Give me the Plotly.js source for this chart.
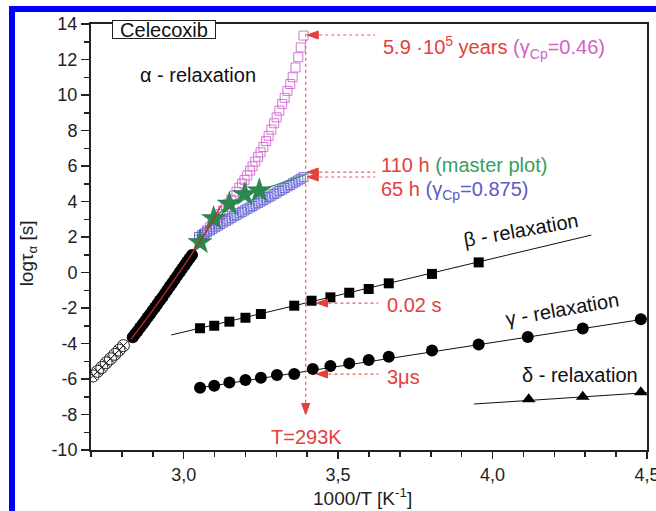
<!DOCTYPE html>
<html>
<head>
<meta charset="utf-8">
<script src="https://cdn.plot.ly/plotly-3.0.1.min.js"></script>
<style>
html,body{margin:0;padding:0;background:#fff;}
#wrap{position:relative;width:656px;height:511px;overflow:hidden;background:#fff;}
#chart{position:absolute;left:0;top:0;width:656px;height:511px;}
.bar{position:absolute;background:#0000ff;z-index:5;}
</style>
</head>
<body>
<div id="wrap">
<div id="chart"></div>
<div class="bar" style="left:9px;top:6px;width:6px;height:505px;"></div>
<div class="bar" style="left:9px;top:6px;width:647px;height:6px;"></div>
</div>
<script>
// ---- data ----
// alpha relaxation: high-temperature points (open crossed circles)
const alphaHTx = [2.707, 2.721, 2.735, 2.749, 2.763, 2.777, 2.791, 2.805];
const alphaHTy = [-5.83, -5.57, -5.35, -5.09, -4.86, -4.61, -4.37, -4.12];
// alpha relaxation: measured (filled circles)
const alphaX = [2.835, 2.843, 2.851, 2.859, 2.867, 2.875, 2.883, 2.891, 2.899, 2.907, 2.915, 2.923, 2.931,
                2.939, 2.947, 2.955, 2.963, 2.971, 2.979, 2.987, 2.995, 3.003, 3.011, 3.019, 3.027];
const alphaY = [-3.65, -3.47, -3.29, -3.10, -2.92, -2.73, -2.54, -2.35, -2.16, -1.97, -1.78, -1.58, -1.39,
                -1.19, -0.99, -0.79, -0.59, -0.39, -0.19, 0.01, 0.21, 0.41, 0.60, 0.80, 0.99];
// VFT fit (red line)
const vftX = [2.83, 2.88, 2.93, 2.98, 3.03, 3.08, 3.12];
const vftY = [-3.75, -2.60, -1.40, -0.15, 1.15, 2.50, 3.75];
// extrapolations (open squares)
const extX = [3.050, 3.059, 3.067, 3.076, 3.085, 3.093, 3.102, 3.111, 3.119, 3.128, 3.137, 3.145, 3.154, 3.163,
              3.171, 3.180, 3.189, 3.197, 3.206, 3.215, 3.223, 3.232, 3.241, 3.249, 3.258, 3.267, 3.275, 3.284,
              3.293, 3.301, 3.310, 3.319, 3.327, 3.336, 3.345, 3.353, 3.362, 3.371, 3.379, 3.388];
const gamma046Y = [1.85, 2.03, 2.19, 2.37, 2.55, 2.71, 2.90, 3.10, 3.29, 3.49, 3.70, 3.88, 4.10, 4.33,
                   4.55, 4.78, 5.01, 5.22, 5.47, 5.74, 5.98, 6.25, 6.52, 6.77, 7.07, 7.40, 7.70, 8.05,
                   8.41, 8.74, 9.12, 9.50, 9.84, 10.23, 10.62, 11.00, 11.55, 12.13, 12.68, 13.35];
const gamma0875Y = [2.00, 2.10, 2.19, 2.28, 2.37, 2.46, 2.55, 2.64, 2.73, 2.82, 2.91, 2.99, 3.08, 3.17,
                    3.25, 3.34, 3.42, 3.50, 3.59, 3.67, 3.75, 3.84, 3.92, 4.00, 4.08, 4.17, 4.25, 4.33,
                    4.42, 4.50, 4.59, 4.67, 4.76, 4.85, 4.93, 5.02, 5.11, 5.19, 5.28, 5.37];
// master plot (green stars + line)
const masterX = [3.053, 3.097, 3.148, 3.198, 3.245];
const masterY = [1.70, 3.05, 3.86, 4.40, 4.61];
const masterLineX = [3.053, 3.097, 3.148, 3.198, 3.245, 3.400];
const masterLineY = [1.70, 3.05, 3.86, 4.40, 4.61, 5.55];
// beta relaxation
const betaX = [3.053, 3.099, 3.148, 3.200, 3.250, 3.358, 3.414, 3.475, 3.536, 3.599, 3.664, 3.804, 3.955];
const betaY = [-3.14, -3.00, -2.77, -2.55, -2.34, -1.87, -1.59, -1.40, -1.14, -0.93, -0.61, -0.08, 0.57];
const betaFitX = [2.96, 4.32];
const betaFitY = [-3.52, 2.11];
// gamma relaxation
const gammaX = [3.053, 3.099, 3.148, 3.200, 3.250, 3.302, 3.358, 3.418, 3.475, 3.536, 3.599, 3.664, 3.804,
                3.955, 4.114, 4.292, 4.480];
const gammaY = [-6.49, -6.38, -6.20, -6.06, -5.93, -5.77, -5.72, -5.44, -5.27, -5.12, -4.93, -4.74, -4.40,
                -4.05, -3.63, -3.15, -2.64];
const gammaFitX = [3.05, 4.50];
const gammaFitY = [-6.50, -2.60];
// delta relaxation
const deltaX = [4.117, 4.292, 4.480];
const deltaY = [-7.14, -7.00, -6.75];
const deltaFitX = [3.94, 4.50];
const deltaFitY = [-7.41, -6.77];
// axis ticks
const xTickVals = [3.0, 3.5, 4.0, 4.5];
const xTickText = ['3,0', '3,5', '4,0', '4,5'];
const yTickVals = [-10, -8, -6, -4, -2, 0, 2, 4, 6, 8, 10, 12, 14];
const yTickText = ['-10', '-8', '-6', '-4', '-2', '0', '2', '4', '6', '8', '10', '12', '14'];

// ---- styles ----
const FONT = 'Liberation Sans, Arial, Helvetica, sans-serif';
const RED = '#e4403c';
const MAG = '#d45fc4';
const BLU = '#5a5ac8';
const GRN = '#36a05a';
const FS = 20;

const traces = [
  {x: alphaHTx, y: alphaHTy, mode: 'markers', type: 'scatter',
   marker: {symbol: 'circle-x-open', size: 12, color: '#222', line: {width: 1}}},
  {x: extX, y: gamma046Y, mode: 'markers', type: 'scatter',
   marker: {symbol: 'square-open', size: 9, color: 'rgb(215,115,215)', line: {width: 1}}},
  {x: extX, y: gamma0875Y, mode: 'markers', type: 'scatter',
   marker: {symbol: 'square-open', size: 9, color: 'rgb(110,110,220)', line: {width: 1}}},
  {x: masterLineX, y: masterLineY, mode: 'lines', type: 'scatter',
   line: {color: '#2f9a55', width: 1.2}},
  {x: masterX, y: masterY, mode: 'markers', type: 'scatter',
   marker: {symbol: 'star', size: 18, color: '#2a8a4c', line: {color: '#1d6b38', width: 0.5}}},
  {x: alphaX, y: alphaY, mode: 'markers', type: 'scatter',
   marker: {symbol: 'circle', size: 12, color: '#000'}},
  {x: vftX, y: vftY, mode: 'lines', type: 'scatter',
   line: {color: '#c0282c', width: 1.3, shape: 'spline'}},
  {x: betaFitX, y: betaFitY, mode: 'lines', type: 'scatter', line: {color: '#111', width: 1}},
  {x: betaX, y: betaY, mode: 'markers', type: 'scatter',
   marker: {symbol: 'square', size: 10, color: '#000'}},
  {x: gammaFitX, y: gammaFitY, mode: 'lines', type: 'scatter', line: {color: '#111', width: 1}},
  {x: gammaX, y: gammaY, mode: 'markers', type: 'scatter',
   marker: {symbol: 'circle', size: 12, color: '#000'}},
  {x: deltaFitX, y: deltaFitY, mode: 'lines', type: 'scatter', line: {color: '#111', width: 1}},
  {x: deltaX, y: deltaY, mode: 'markers', type: 'scatter',
   marker: {symbol: 'triangle-up', size: 12, color: '#000'}}
];

function dotted(x0, y0, x1, y1) {
  return {type: 'line', xref: 'x', yref: 'y', x0: x0, y0: y0, x1: x1, y1: y1,
          line: {color: '#ee5a5a', width: 1.2, dash: 'dot'}, layer: 'above'};
}
// arrowheads as small triangles sized in pixels, anchored at the tip
function headLeft(x, y) {
  return {type: 'path', xref: 'x', yref: 'y', xsizemode: 'pixel', ysizemode: 'pixel',
          xanchor: x, yanchor: y, path: 'M0,0 L11,4 L11,-4 Z',
          fillcolor: RED, line: {color: RED, width: 1}, layer: 'above'};
}
function headDown(x, y) {
  return {type: 'path', xref: 'x', yref: 'y', xsizemode: 'pixel', ysizemode: 'pixel',
          xanchor: x, yanchor: y, path: 'M0,0 L-4,11 L4,11 Z',
          fillcolor: RED, line: {color: RED, width: 1}, layer: 'above'};
}
function txt(x, y, text, opts) {
  return Object.assign({x: x, y: y, xref: 'x', yref: 'y', text: text, showarrow: false,
          font: {family: FONT, size: FS, color: '#111'}, xanchor: 'center', yanchor: 'middle'}, opts || {});
}
const redFont = {family: FONT, size: FS, color: RED};

const layout = {
  width: 656, height: 511,
  margin: {l: 91, r: 9, t: 24, b: 61},
  paper_bgcolor: '#fff', plot_bgcolor: '#fff',
  showlegend: false,
  font: {family: FONT, size: 18, color: '#222'},
  xaxis: {
    range: [2.7, 4.5], tickmode: 'array', tickvals: xTickVals, ticktext: xTickText,
    ticks: 'outside', ticklen: 7, tickwidth: 1.5, tickcolor: '#222', ticklabeloverflow: 'allow',
    minor: {tick0: 2.7, dtick: 0.1, ticks: 'outside', ticklen: 5, tickwidth: 1.5, tickcolor: '#222'},
    showline: true, linewidth: 2, linecolor: '#222', mirror: true,
    showgrid: false, zeroline: false, tickfont: {family: FONT, size: 18, color: '#222'}
  },
  yaxis: {
    range: [-10, 14], tickmode: 'array', tickvals: yTickVals, ticktext: yTickText,
    ticks: 'outside', ticklen: 8, tickwidth: 1.5, tickcolor: '#222',
    minor: {tick0: -10, dtick: 1, ticks: 'outside', ticklen: 5, tickwidth: 1.5, tickcolor: '#222'},
    showline: true, linewidth: 2, linecolor: '#222', mirror: true,
    showgrid: false, zeroline: false, tickfont: {family: FONT, size: 18, color: '#222'}
  },
  shapes: [
    dotted(3.395, 13.45, 3.395, -7.5),
    dotted(3.40, 13.38, 3.62, 13.38),
    dotted(3.40, 5.66, 3.62, 5.66),
    dotted(3.40, 5.38, 3.62, 5.38),
    dotted(3.43, -1.72, 3.63, -1.72),
    dotted(3.43, -5.72, 3.63, -5.72),
    headDown(3.395, -8.0),
    headLeft(3.40, 13.38),
    headLeft(3.40, 5.66),
    headLeft(3.40, 5.38),
    headLeft(3.43, -1.72),
    headLeft(3.43, -5.72)
  ],
  annotations: [
    {x: 0.131, y: 0.988, xref: 'paper', yref: 'paper', text: 'Celecoxib', showarrow: false,
     font: {family: FONT, size: FS, color: '#111'}, bgcolor: '#fff', bordercolor: '#222',
     borderwidth: 1, borderpad: 0, width: 102, height: 17, xanchor: 'center', yanchor: 'middle'},
    txt(3.046, 11.13, 'α - relaxation'),
    txt(3.639, 12.70, '5.9 ·10<sup>5</sup> years <span style="color:' + MAG + '">(γ<sub>Cp</sub>=0.46)</span>',
        {xanchor: 'left', font: redFont}),
    txt(3.632, 6.06, '110 h <span style="color:' + GRN + '">(master plot)</span>',
        {xanchor: 'left', font: redFont}),
    txt(3.632, 4.60, '65 h <span style="color:' + BLU + '">(γ<sub>Cp</sub>=0.875)</span>',
        {xanchor: 'left', font: redFont}),
    txt(4.092, 2.39, 'β - relaxation', {textangle: -10}),
    txt(4.228, -2.06, 'γ - relaxation', {textangle: -10}),
    txt(4.283, -5.77, 'δ - relaxation'),
    txt(3.652, -1.83, '0.02 s', {xanchor: 'left', font: redFont}),
    txt(3.652, -5.89, '3μs', {xanchor: 'left', font: redFont}),
    txt(3.398, -9.27, 'T=293K', {font: redFont}),
    {x: -0.113, y: 0.462, xref: 'paper', yref: 'paper', text: 'logτ<sub>α</sub> [s]', showarrow: false,
     textangle: -90, font: {family: FONT, size: 19, color: '#222'}, xanchor: 'center', yanchor: 'middle'},
    {x: 0.489, y: -0.110, xref: 'paper', yref: 'paper', text: '1000/T [K<sup>-1</sup>]', showarrow: false,
     font: {family: FONT, size: 19, color: '#222'}, xanchor: 'center', yanchor: 'middle'}
  ]
};

Plotly.newPlot('chart', traces, layout, {displayModeBar: false, staticPlot: true});
</script>
</body>
</html>
